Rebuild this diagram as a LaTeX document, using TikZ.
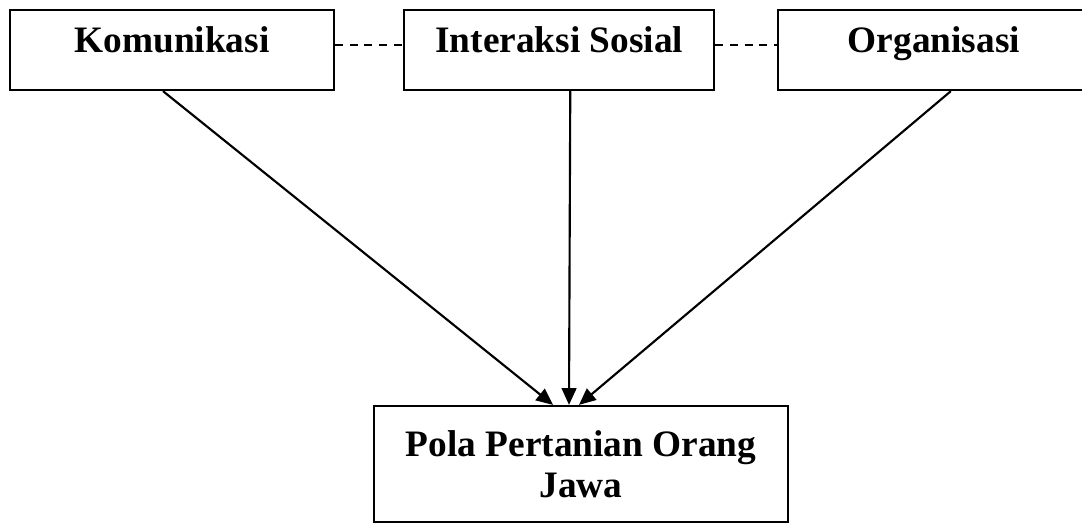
\documentclass[tikz,border=0pt]{standalone}
\usepackage{fontspec}
\setmainfont{Liberation Serif}
\usepackage{tikz}
\usetikzlibrary{positioning,arrows.meta}

\begin{document}
\begin{tikzpicture}[x=0.75pt,y=-0.75pt,>={Triangle[length=12.5pt,width=11pt]},
  font=\bfseries\fontsize{28}{30.75}\selectfont]
\tikzstyle{faktor}=[draw,line width=1.7pt,minimum height=60pt,inner sep=0pt,
  text height=0.7em,text depth=0.27em]
\tikzstyle{hasil}=[draw,line width=1.7pt,minimum width=310.5pt,minimum height=87pt,
  align=center,inner sep=0pt]
\tikzstyle{hubung}=[line width=0.8pt,dash pattern=on 6pt off 5pt]
\tikzstyle{panah}=[->,line width=1.6pt]

\useasboundingbox (0,0) rectangle (1082,523);

\node[faktor,minimum width=243pt] (kom) at (172,50) {Komunikasi};
\node[faktor,minimum width=232.5pt,right=51pt of kom] (int) {Interaksi Sosial};
\node[faktor,minimum width=234pt,right=46pt of int] (org) {Organisasi};

\node[hasil] (pola) at (581,464) {Pola Pertanian Orang\\ Jawa};

% garis putus-putus antar faktor
\draw[hubung] ([yshift=3.75pt]kom.east) -- ([yshift=3.75pt]int.west);
\draw[hubung] ([yshift=3.75pt]int.east) -- ([yshift=3.75pt]org.west);

% pengaruh ke pola pertanian
\draw[panah] ([xshift=-6.75pt]kom.south) -- ([xshift=-21pt]pola.north);
\draw[panah] ([xshift=8.25pt]int.south) -- ([xshift=-9pt]pola.north);
\draw[panah] ([xshift=12.75pt]org.south) -- ([xshift=-1.5pt]pola.north);
\end{tikzpicture}
\end{document}
